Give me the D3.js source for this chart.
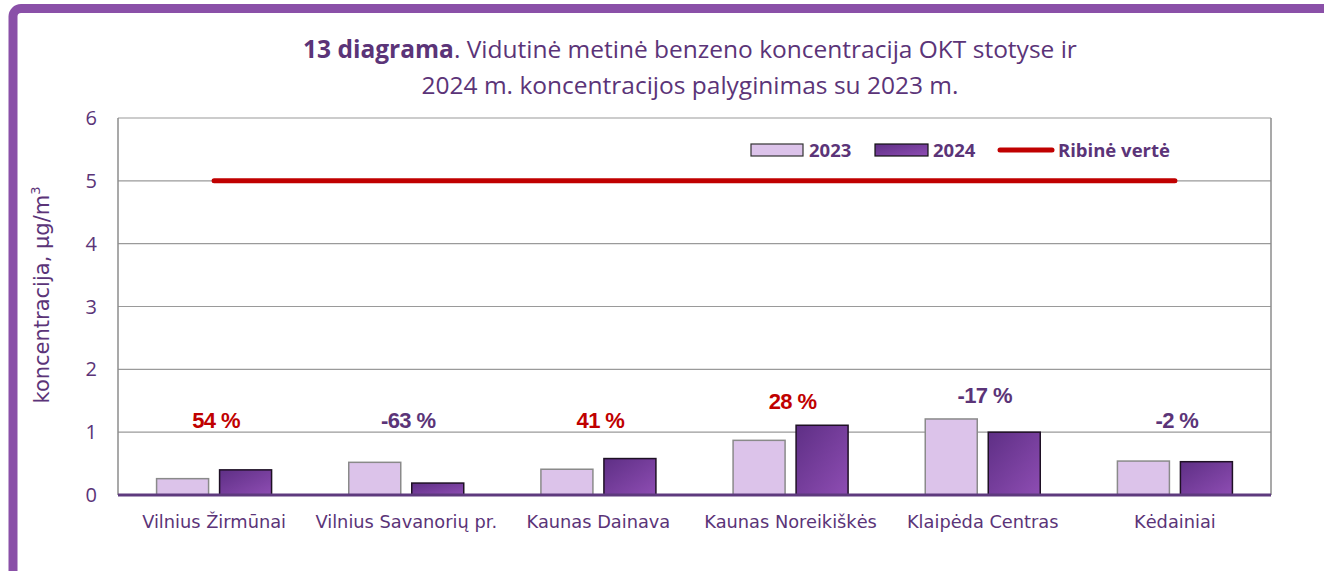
<!DOCTYPE html>
<head>
<script src="https://d3js.org/d3.v7.min.js"></script>
<style>
  body { margin: 0; background: #fff; }
</style>
</head>
<body>
<script>
var categories = ["Vilnius Žirmūnai", "Vilnius Savanorių pr.", "Kaunas Dainava", "Kaunas Noreikiškės", "Klaipėda Centras", "Kėdainiai"];
var series2023 = [0.26, 0.52, 0.41, 0.87, 1.21, 0.54];
var series2024 = [0.40, 0.19, 0.58, 1.11, 1.00, 0.53];
var changeLabels = ["54 %", "-63 %", "41 %", "28 %", "-17 %", "-2 %"];
var limitValue = 5;
var yTicks = [0, 1, 2, 3, 4, 5, 6];

var w = 1324, h = 571;
var purple = "#5B3478";
var svg = d3.select("body").append("svg").attr("width", w).attr("height", h);

var defs = svg.append("defs");
var grad = defs.append("linearGradient").attr("id", "g24")
  .attr("x1", "0%").attr("y1", "0%").attr("x2", "100%").attr("y2", "100%");
grad.append("stop").attr("offset", "0%").attr("stop-color", "#5E2F85");
grad.append("stop").attr("offset", "100%").attr("stop-color", "#8E4DB3");

// frame
svg.append("rect").attr("x", 13).attr("y", 8.5).attr("width", 1400).attr("height", 700)
  .attr("rx", 8).attr("fill", "none").attr("stroke", "#8A50A8").attr("stroke-width", 9);

var pLeft = 118, pRight = 1271, pTop = 118, pBottom = 495;

var x = d3.scaleBand().domain(d3.range(categories.length)).range([pLeft, pRight]);
var y = d3.scaleLinear().domain([0, 6]).range([pBottom, pTop]);

// grid
svg.selectAll(".grid").data(yTicks).enter().append("line")
  .attr("x1", pLeft).attr("x2", pRight)
  .attr("y1", function(d){ return y(d); }).attr("y2", function(d){ return y(d); })
  .attr("stroke", "#9a9a9a").attr("stroke-width", 1.2);
svg.append("line").attr("x1", pLeft).attr("x2", pLeft).attr("y1", pTop).attr("y2", pBottom)
  .attr("stroke", "#8c8c8c").attr("stroke-width", 1.5);
svg.append("line").attr("x1", pRight).attr("x2", pRight).attr("y1", pTop).attr("y2", pBottom)
  .attr("stroke", "#8c8c8c").attr("stroke-width", 1.5);

// y tick labels
svg.selectAll(".ytl").data(yTicks).enter().append("text")
  .attr("x", 97).attr("y", function(d){ return y(d) + 7; })
  .attr("text-anchor", "end").attr("font-family", "Open Sans").attr("font-size", 20)
  .attr("fill", purple).text(function(d){ return d; });

// y title
var yt = svg.append("text").attr("transform", "translate(49,295) rotate(-90)")
  .attr("text-anchor", "middle").attr("font-family", "DejaVu Sans").attr("font-size", 21)
  .attr("fill", purple);
yt.append("tspan").text("koncentracija, μg/m");
yt.append("tspan").attr("dy", -9).attr("font-size", 13).text("3");

var barW = 52, gap = 11;
function cx(i){ return x(i) + x.bandwidth() / 2; }

svg.selectAll(".b23").data(series2023).enter().append("rect")
  .attr("x", function(d, i){ return cx(i) - gap / 2 - barW; })
  .attr("y", function(d){ return y(d); })
  .attr("width", barW).attr("height", function(d){ return pBottom - y(d); })
  .attr("fill", "#DCC3EA").attr("stroke", "#8a8a8a").attr("stroke-width", 1.5);

svg.selectAll(".b24").data(series2024).enter().append("rect")
  .attr("x", function(d, i){ return cx(i) + gap / 2; })
  .attr("y", function(d){ return y(d); })
  .attr("width", barW).attr("height", function(d){ return pBottom - y(d); })
  .attr("fill", "url(#g24)").attr("stroke", "#1e1024").attr("stroke-width", 1.5);

// bottom axis line
svg.append("line").attr("x1", pLeft).attr("x2", pRight).attr("y1", pBottom).attr("y2", pBottom)
  .attr("stroke", "#5E3A7E").attr("stroke-width", 3);

// limit line
svg.append("line")
  .attr("x1", cx(0)).attr("x2", cx(categories.length - 1))
  .attr("y1", y(limitValue)).attr("y2", y(limitValue))
  .attr("stroke", "#C00000").attr("stroke-width", 5).attr("stroke-linecap", "round");

// change labels
svg.selectAll(".chg").data(changeLabels).enter().append("text")
  .attr("x", function(d, i){ return cx(i) + 2; })
  .attr("y", function(d, i){
    var m = Math.max(series2023[i], series2024[i]);
    return y(Math.max(1.2, m + 0.38)) + 8;
  })
  .attr("text-anchor", "middle").attr("font-family", "Liberation Sans").attr("font-weight", "bold")
  .attr("font-size", 22).attr("letter-spacing", -0.6)
  .attr("fill", function(d){ return d.charAt(0) === "-" ? purple : "#C00000"; })
  .text(function(d){ return d; });

// category labels
svg.selectAll(".cat").data(categories).enter().append("text")
  .attr("x", function(d, i){ return cx(i); }).attr("y", 528)
  .attr("text-anchor", "middle").attr("font-family", "DejaVu Sans").attr("font-size", 17.8)
  .attr("fill", purple).text(function(d){ return d; });

// title
var t1 = svg.append("text").attr("x", 690).attr("y", 58).attr("text-anchor", "middle")
  .attr("font-family", "Open Sans").attr("font-size", 24.5).attr("fill", purple);
t1.append("tspan").attr("font-weight", "bold").text("13 diagrama");
t1.append("tspan").text(". Vidutinė metinė benzeno koncentracija OKT stotyse ir");
svg.append("text").attr("x", 690).attr("y", 94).attr("text-anchor", "middle")
  .attr("font-family", "Open Sans").attr("font-size", 24.5).attr("fill", purple)
  .text("2024 m. koncentracijos palyginimas su 2023 m.");

// legend
var lg = svg.append("g").attr("font-family", "Open Sans").attr("font-weight", "bold")
  .attr("font-size", 18.5).attr("fill", purple);
lg.append("rect").attr("x", 751).attr("y", 144).attr("width", 52).attr("height", 12)
  .attr("fill", "#DCC3EA").attr("stroke", "#333").attr("stroke-width", 1.2);
lg.append("text").attr("x", 809).attr("y", 157).text("2023");
lg.append("rect").attr("x", 875).attr("y", 144).attr("width", 53).attr("height", 12)
  .attr("fill", "url(#g24)").attr("stroke", "#111").attr("stroke-width", 1.2);
lg.append("text").attr("x", 933).attr("y", 157).text("2024");
lg.append("line").attr("x1", 1000).attr("x2", 1052).attr("y1", 150).attr("y2", 150)
  .attr("stroke", "#C00000").attr("stroke-width", 5).attr("stroke-linecap", "round");
lg.append("text").attr("x", 1058).attr("y", 157).text("Ribinė vertė");
</script>
</body>
